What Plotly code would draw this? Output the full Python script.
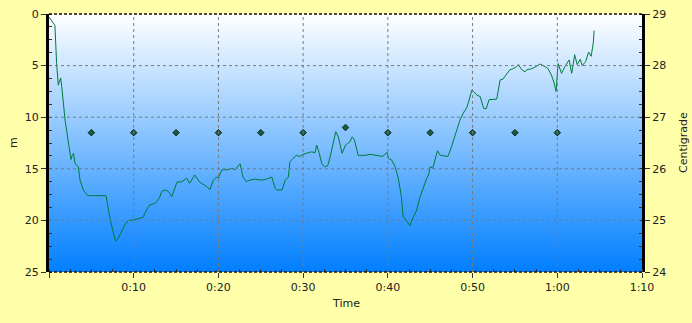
import plotly.graph_objects as go

# ---- data ----
time_min = [0.0, 0.3, 0.7, 0.9, 1.1, 1.25, 1.38, 1.5, 1.9, 2.3, 2.6, 2.75, 2.9, 3.07, 3.46, 3.66,
            4.05, 4.45, 4.64, 5.5, 6.73, 7.2, 7.8, 7.95, 8.38, 8.97, 9.37, 9.95, 10.5, 11.1, 11.5,
            11.9, 12.5, 12.7, 13.1, 13.3, 13.7, 14.1, 14.5, 15.1, 15.7, 16.25, 16.6, 17.2, 17.8,
            18.4, 19.0, 19.4, 19.8, 20.0, 20.4, 21.0, 21.6, 21.95, 22.55, 22.9, 23.3, 23.7, 24.3,
            25.1, 25.7, 26.3, 26.7, 26.9, 27.5, 27.9, 28.25, 28.45, 28.8, 29.2, 29.6, 30.0, 30.6,
            31.0, 31.4, 31.6, 31.9, 32.2, 32.5, 32.9, 33.2, 33.6, 33.85, 34.15, 34.6, 35.0, 35.5,
            35.8, 36.05, 36.5, 37.3, 37.9, 38.7, 39.4, 39.9, 40.05, 40.45, 40.85, 41.2, 41.6, 41.8,
            42.2, 42.6, 43.0, 43.4, 43.8, 44.2, 44.6, 44.8, 45.0, 45.3, 45.6, 45.85, 46.2, 46.75,
            47.1, 47.5, 47.9, 48.3, 48.5, 48.9, 49.3, 49.5, 49.9, 50.1, 50.5, 50.9, 51.3, 51.6,
            51.95, 52.85, 53.25, 53.6, 54.0, 54.4, 54.8, 55.2, 55.4, 55.8, 56.2, 56.4, 57.0, 57.4,
            58.0, 58.55, 58.9, 59.3, 59.6, 59.85, 60.1, 60.5, 60.9, 61.4, 61.7, 62.05, 62.35, 62.7,
            62.95, 63.35, 63.7, 64.0, 64.25, 64.35]
depth_m = [0.3, 0.7, 1.1, 4.8, 6.9, 6.5, 6.2, 7.0, 10.3, 12.5, 14.1, 13.7, 13.5, 14.5, 14.8, 16.1,
           17.05, 17.5, 17.6, 17.6, 17.6, 19.8, 21.9, 22.0, 21.4, 20.4, 20.0, 19.96, 19.8, 19.7, 19.0,
           18.5, 18.35, 18.2, 17.7, 17.2, 17.05, 17.2, 17.7, 16.3, 16.25, 15.9, 16.4, 15.6, 16.3,
           16.6, 17.0, 16.1, 15.8, 15.9, 15.1, 15.1, 14.95, 15.1, 14.5, 15.8, 16.25, 16.1, 16.0,
           16.1, 16.0, 15.8, 16.9, 17.05, 17.05, 16.1, 15.8, 14.3, 14.0, 13.7, 13.8, 13.6, 13.45,
           13.35, 13.45, 12.7, 13.5, 14.5, 14.8, 14.7, 13.8, 12.2, 11.4, 11.9, 13.5, 12.7, 12.4,
           11.9, 12.2, 13.7, 13.7, 13.6, 13.7, 13.8, 13.4, 14.0, 14.15, 14.8, 15.8, 17.7, 19.6,
           20.0, 20.5, 19.7, 19.0, 17.7, 16.7, 15.9, 15.6, 14.8, 14.95, 14.0, 13.25, 13.7, 13.8,
           13.8, 12.9, 11.9, 10.9, 10.3, 9.6, 9.1, 8.6, 7.4, 7.5, 7.85, 8.0, 9.15, 9.2,
           8.3, 8.25, 6.4, 6.3, 5.9, 5.4, 5.3, 5.1, 4.9, 5.4, 5.6, 5.4, 5.3, 5.1,
           4.85, 5.1, 5.3, 5.9, 6.6, 7.5, 4.8, 5.75, 5.1, 4.45, 5.75, 3.95, 4.9, 4.4,
           5.0, 4.6, 3.7, 4.1, 2.8, 1.6]

temp_time_min = [5, 10, 15, 20, 25, 30, 35, 40, 45, 50, 55, 60]
temp_c = [26.7, 26.7, 26.7, 26.7, 26.7, 26.7, 26.8, 26.7, 26.7, 26.7, 26.7, 26.7]

x_tick_vals = [0, 10, 20, 30, 40, 50, 60, 70]
x_tick_text = ["", "0:10", "0:20", "0:30", "0:40", "0:50", "1:00", "1:10"]
depth_ticks = [0, 5, 10, 15, 20, 25]
temp_ticks = [24, 25, 26, 27, 28, 29]

FONT = dict(family="DejaVu Sans", size=11, color="#222222")

fig = go.Figure()

# smooth gradient background (white top -> blue bottom)
fig.add_trace(go.Heatmap(x=[-1, 71], y=[0, 25], z=[[0, 0], [1, 1]],
                         colorscale=[[0, "rgb(255,255,255)"], [1, "rgb(0,126,255)"]],
                         zsmooth="best", showscale=False, hoverinfo="skip"))

fig.add_trace(go.Scatter(x=time_min, y=depth_m, mode="lines",
                         line=dict(color="#007A3D", width=1), showlegend=False,
                         hoverinfo="skip"))
fig.add_trace(go.Scatter(x=temp_time_min, y=temp_c, mode="markers", yaxis="y2",
                         marker=dict(symbol="diamond", size=5, color="#1F5A3C",
                                     line=dict(color="#0A2A1A", width=1)),
                         showlegend=False, hoverinfo="skip"))

# dashed grid lines drawn over the gradient
for xv in x_tick_vals[1:-1]:
    fig.add_shape(type="line", xref="x", yref="paper", x0=xv, x1=xv, y0=0, y1=1,
                  line=dict(color="#7A7A7A", width=1, dash="3px,3px"), layer="above")
for yv in depth_ticks[1:-1]:
    fig.add_shape(type="line", xref="paper", yref="y", x0=0, x1=1, y0=yv, y1=yv,
                  line=dict(color="#7A7A7A", width=1, dash="3px,3px"), layer="above")

# dashed top/bottom borders
for yy in (0, 1):
    fig.add_shape(type="line", xref="paper", yref="paper", x0=0, x1=1, y0=yy, y1=yy,
                  line=dict(color="#111111", width=1.5, dash="3px,2px"), layer="above")

fig.update_layout(
    width=692, height=323,
    margin=dict(l=49, r=50, t=14, b=51, autoexpand=False),
    paper_bgcolor="#FFFFAA",
    plot_bgcolor="rgba(0,0,0,0)",
    font=FONT,
    xaxis=dict(range=[0, 70], tickvals=x_tick_vals, ticktext=x_tick_text,
               showgrid=False, zeroline=False, automargin=False,
               ticks="outside", ticklen=5, tickcolor="#333333",
               minor=dict(dtick=2.5, ticks="inside", ticklen=3, tickcolor="#333333", showgrid=False),
               tickfont=FONT),
    yaxis=dict(range=[25, 0], tickvals=depth_ticks,
               showgrid=False, zeroline=False, automargin=False,
               showline=True, linecolor="black", linewidth=3,
               ticks="outside", ticklen=5, tickcolor="#333333",
               minor=dict(dtick=1.25, ticks="inside", ticklen=3, tickcolor="#333333", showgrid=False),
               tickfont=FONT),
    yaxis2=dict(range=[24, 29], overlaying="y", side="right", tickvals=temp_ticks,
                showgrid=False, zeroline=False, automargin=False,
                showline=True, linecolor="black", linewidth=3,
                ticks="outside", ticklen=5, tickcolor="#333333",
                minor=dict(dtick=0.25, ticks="inside", ticklen=3, tickcolor="#333333"),
                tickfont=FONT),
    annotations=[
        dict(text="Time", xref="paper", yref="paper", x=0.5, y=0, yshift=-31,
             showarrow=False, font=FONT, xanchor="center", yanchor="middle"),
        dict(text="m", xref="paper", yref="paper", x=0, xshift=-36, y=0.5,
             showarrow=False, font=FONT, textangle=-90, xanchor="center", yanchor="middle"),
        dict(text="Centigrade", xref="paper", yref="paper", x=1, xshift=41, y=0.5,
             showarrow=False, font=FONT, textangle=-90, xanchor="center", yanchor="middle"),
    ],
)

fig.write_html("out.html")
